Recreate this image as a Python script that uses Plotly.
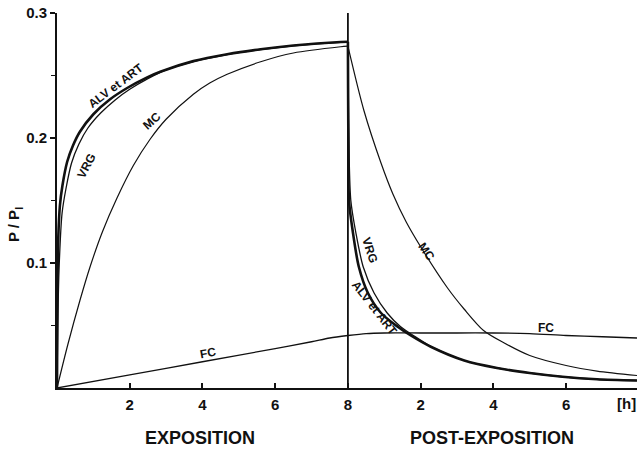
import plotly.graph_objects as go

# ---------------- data (hours, P/PI) ----------------
EXPO_END = 8.0
VLINE_TOP = 0.3

alv_expo_t = [0, 0.01, 0.03, 0.08, 0.15, 0.28, 0.44, 0.63, 1.0, 1.46, 1.93, 2.48, 2.84, 3.75, 4.68, 5.6, 6.5, 7.8, 8.0]
alv_expo_v = [0, 0.07, 0.115, 0.146, 0.162, 0.181, 0.194, 0.205, 0.219, 0.231, 0.240, 0.2485, 0.253, 0.2615, 0.267, 0.271, 0.274, 0.2768, 0.277]
alv_post_dt = [0, 0.005, 0.015, 0.03, 0.14, 0.30, 0.55, 0.91, 1.37, 1.73, 2.28, 3.2, 4.1, 5.0, 5.9, 6.85, 7.95]
alv_post_v = [0.277, 0.24, 0.19, 0.150, 0.124, 0.097, 0.076, 0.060, 0.049, 0.042, 0.033, 0.022, 0.016, 0.012, 0.009, 0.007, 0.006]

vrg_expo_t = [0, 0.02, 0.06, 0.14, 0.25, 0.4, 0.6, 0.85, 1.2, 1.6, 2.0, 2.5, 3.0, 3.75, 4.68, 5.6, 6.5, 7.8, 8.0]
vrg_expo_v = [0, 0.05, 0.098, 0.140, 0.160, 0.180, 0.195, 0.208, 0.220, 0.2305, 0.239, 0.2475, 0.2545, 0.2612, 0.2668, 0.2708, 0.2738, 0.2765, 0.2767]
vrg_post_dt = [0, 0.01, 0.03, 0.08, 0.22, 0.42, 0.72, 1.08, 1.45, 1.8, 2.3, 3.2, 4.1, 5.0, 5.9, 6.85, 7.95]
vrg_post_v = [0.2767, 0.24, 0.19, 0.150, 0.124, 0.097, 0.076, 0.060, 0.049, 0.042, 0.033, 0.022, 0.016, 0.012, 0.009, 0.007, 0.006]

mc_expo_t = [0, 0.3, 0.63, 0.91, 1.25, 1.65, 2.1, 2.56, 3.0, 3.75, 4.2, 4.68, 5.6, 6.5, 7.8, 8.0]
mc_expo_v = [0, 0.035, 0.07, 0.097, 0.125, 0.152, 0.178, 0.199, 0.215, 0.235, 0.244, 0.251, 0.261, 0.268, 0.273, 0.2735]
mc_post_dt = [0, 0.44, 0.91, 1.24, 1.6, 2.0, 2.74, 3.2, 3.73, 4.3, 5.0, 6.0, 6.85, 7.95]
mc_post_v = [0.2735, 0.222, 0.180, 0.155, 0.133, 0.113, 0.080, 0.063, 0.046, 0.036, 0.026, 0.018, 0.0135, 0.010]

fc_expo_t = [0, 2, 4, 6, 7, 7.5, 8.0]
fc_expo_v = [0, 0.0105, 0.021, 0.0315, 0.037, 0.040, 0.042]
fc_post_dt = [0, 0.5, 1, 2, 3, 4, 5, 6, 7, 7.95]
fc_post_v = [0.042, 0.0435, 0.044, 0.044, 0.044, 0.044, 0.0435, 0.042, 0.041, 0.040]

x_tickvals = [2, 4, 6, 8, 10, 12, 14]
x_ticktext = ["2", "4", "6", "8", "2", "4", "6"]
y_tickvals = [0.1, 0.2, 0.3]
y_ticktext = ["0.1", "0.2", "0.3"]

FONT = "Liberation Sans, Arial, sans-serif"
BLACK = "#111111"


def post(dt):
    return [EXPO_END + d for d in dt]


fig = go.Figure()

series = [
    (alv_expo_t, alv_expo_v, 2.6),
    (post(alv_post_dt), alv_post_v, 2.6),
    (vrg_expo_t, vrg_expo_v, 1.3),
    (post(vrg_post_dt), vrg_post_v, 1.3),
    (mc_expo_t, mc_expo_v, 1.2),
    (post(mc_post_dt), mc_post_v, 1.2),
    (fc_expo_t, fc_expo_v, 1.3),
    (post(fc_post_dt), fc_post_v, 1.3),
]
for xs, ys, w in series:
    fig.add_trace(go.Scatter(x=xs, y=ys, mode="lines",
                             line=dict(color=BLACK, width=w, shape="spline", smoothing=0.8),
                             showlegend=False, hoverinfo="skip"))

# vertical separator at end of exposure
fig.add_trace(go.Scatter(x=[EXPO_END, EXPO_END], y=[0, VLINE_TOP], mode="lines",
                         line=dict(color=BLACK, width=1.8), showlegend=False, hoverinfo="skip"))

lab_font = dict(family=FONT, size=12, color=BLACK, weight="bold")
labels = [
    ("ALV et ART", 1.6, 0.242, -37),
    ("VRG", 0.8, 0.178, -62),
    ("MC", 2.6, 0.214, -42),
    ("FC", 4.16, 0.028, -10),
    ("VRG", 8.62, 0.110, 72),
    ("MC", 10.17, 0.109, 55),
    ("ALV et ART", 8.73, 0.064, 52),
    ("FC", 13.44, 0.048, 0),
]
for txt, x, y, ang in labels:
    fig.add_annotation(x=x, y=y, text=txt, showarrow=False, textangle=ang, font=lab_font,
                       xanchor="center", yanchor="middle")

big_font = dict(family=FONT, size=18, color=BLACK, weight="bold")
fig.add_annotation(x=3.94, y=-0.133, yref="paper", text="EXPOSITION", showarrow=False,
                   font=big_font, xanchor="center", yanchor="middle")
fig.add_annotation(x=11.96, y=-0.133, yref="paper", text="POST-EXPOSITION", showarrow=False,
                   font=big_font, xanchor="center", yanchor="middle")
fig.add_annotation(x=15.65, y=-0.04, yref="paper", text="[h]", showarrow=False,
                   font=dict(family=FONT, size=15, color=BLACK, weight="bold"),
                   xanchor="center", yanchor="middle")
fig.add_annotation(x=-0.072, y=0.435, xref="paper", yref="paper", text="P / P<sub>I</sub>",
                   showarrow=False, textangle=-90,
                   font=dict(family=FONT, size=15, color=BLACK, weight="bold"),
                   xanchor="center", yanchor="middle")

tick_font = dict(family=FONT, size=15, color=BLACK, weight="bold")
fig.update_xaxes(range=[0, 15.95], showgrid=False, zeroline=False, showline=True,
                 linecolor=BLACK, linewidth=2, ticks="inside", ticklen=5, tickwidth=1.5,
                 tickcolor=BLACK, tickvals=x_tickvals, ticktext=x_ticktext,
                 tickfont=tick_font, ticklabelstandoff=2)
fig.update_yaxes(range=[0, 0.3], showgrid=False, zeroline=False, showline=True,
                 linecolor=BLACK, linewidth=2, ticks="outside", ticklen=5, tickwidth=1.5,
                 tickcolor=BLACK, tickvals=y_tickvals, ticktext=y_ticktext,
                 tickfont=tick_font,
                 minor=dict(tickvals=[0.05, 0.15, 0.25], ticks="outside", ticklen=4,
                            tickcolor=BLACK, tickwidth=1.2))

fig.update_layout(width=637, height=453, margin=dict(l=57, r=0, t=13, b=65),
                  plot_bgcolor="white", paper_bgcolor="white")

fig.write_html("out.html")
